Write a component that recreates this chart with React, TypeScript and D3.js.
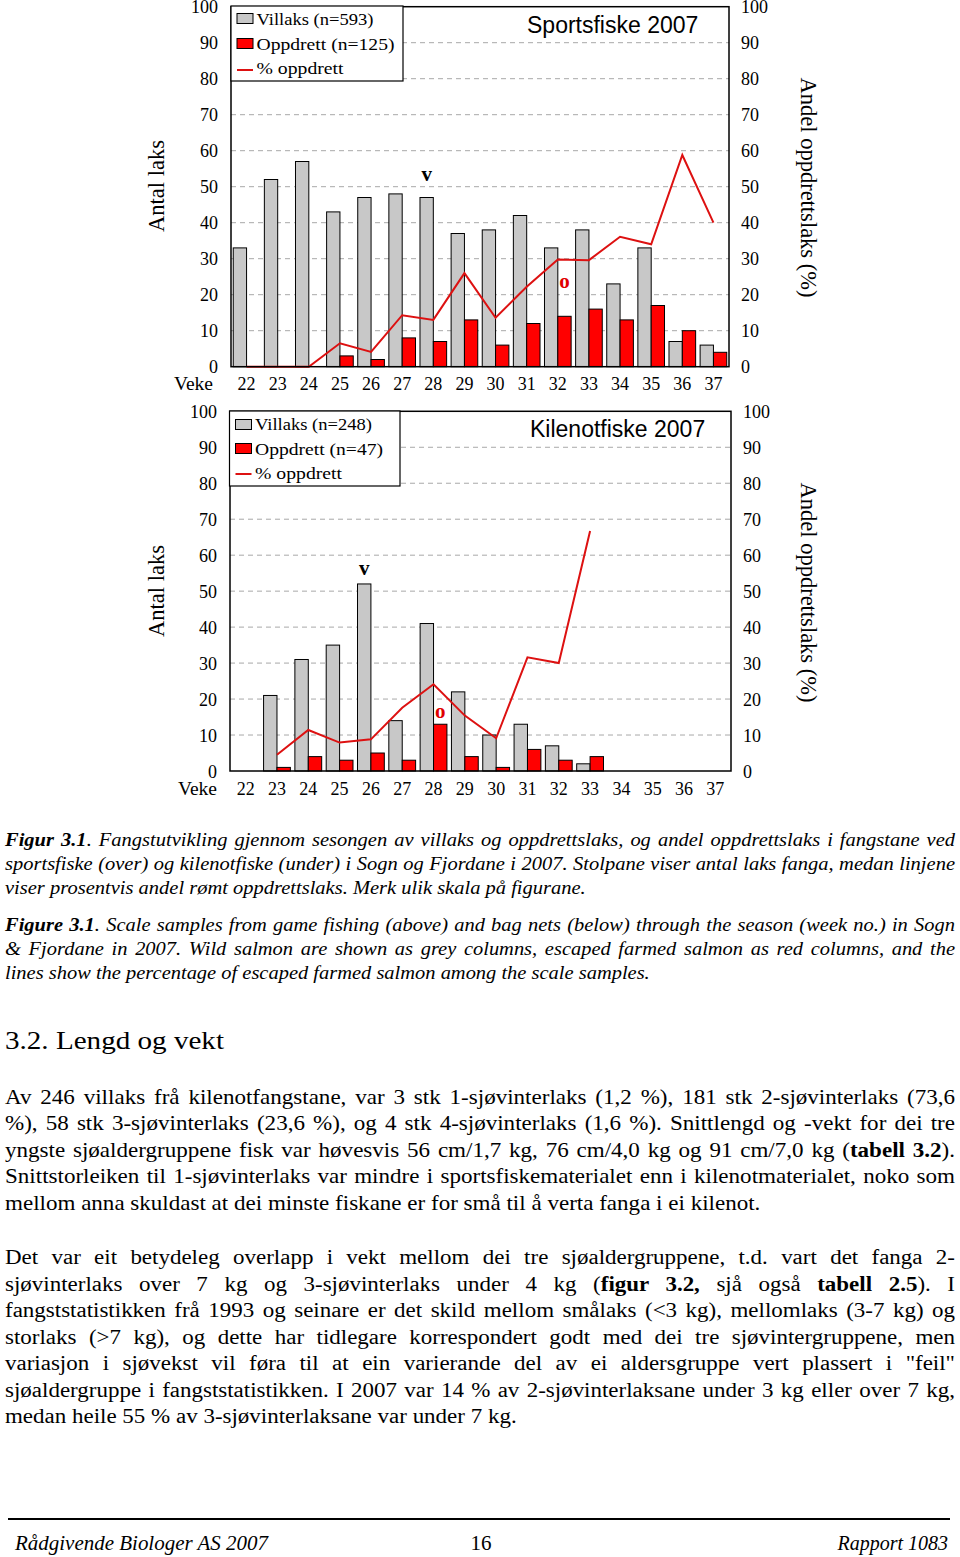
import React, { useEffect, useRef } from "react";
import * as d3 from "d3";

// ---------- data ----------
const weeks = ["22", "23", "24", "25", "26", "27", "28", "29", "30", "31", "32", "33", "34", "35", "36", "37"];
const yTicks = [0, 10, 20, 30, 40, 50, 60, 70, 80, 90, 100];

const sportVillaks = [33, 52, 57, 43, 47, 48, 47, 37, 38, 42, 33, 38, 23, 33, 7, 6];
const sportOppdrett = [0, 0, 0, 3, 2, 8, 7, 13, 6, 12, 14, 16, 13, 17, 10, 4];
const sportPct = [0, 0, 0, 6.5, 4.1, 14.3, 13, 26, 13.6, 22.2, 29.8, 29.6, 36.1, 34, 58.8, 40];

const kileVillaks = [null, 21, 31, 35, 52, 14, 41, 22, 10, 13, 7, 2, null, null, null, null];
const kileOppdrett = [null, 1, 4, 3, 5, 3, 13, 4, 1, 6, 3, 4, null, null, null, null];
const kilePct = [null, 4.5, 11.4, 7.9, 8.8, 17.6, 24.1, 15.4, 9.1, 31.6, 30, 66.7, null, null, null, null];

const sportLegend = ["Villaks (n=593)", "Oppdrett (n=125)", "% oppdrett"];
const kileLegend = ["Villaks (n=248)", "Oppdrett (n=47)", "% oppdrett"];
const sportTitle = "Sportsfiske 2007";
const kileTitle = "Kilenotfiske 2007";
const sportMarks = [{ week: "28", series: "v", value: 51.5, text: "v" }, { week: "32", series: "o", value: 21.8, text: "o" }];
const kileMarks = [{ week: "26", series: "v", value: 54.4, text: "v" }, { week: "28", series: "o", value: 14.7, text: "o" }];

type Seg = string | { b: string };
const captionNo: Seg[][] = [
  [{ b: "Figur 3.1" }, ". Fangstutvikling gjennom sesongen av villaks og oppdrettslaks, og andel oppdrettslaks i fangstane ved"],
  ["sportsfiske (over) og kilenotfiske (under) i Sogn og Fjordane i 2007. Stolpane viser antal laks fanga, medan linjene"],
  ["viser prosentvis andel rømt oppdrettslaks. Merk ulik skala på figurane."],
];
const captionEn: Seg[][] = [
  [{ b: "Figure 3.1" }, ". Scale samples from game fishing (above) and bag nets (below) through the season (week no.) in Sogn"],
  ["& Fjordane in 2007.  Wild salmon are shown as grey columns, escaped farmed salmon as red columns, and the"],
  ["lines show the percentage of escaped farmed salmon among the scale samples."],
];
const heading = "3.2. Lengd og vekt";
const para1: Seg[][] = [
  ["Av 246 villaks frå kilenotfangstane, var 3 stk 1-sjøvinterlaks  (1,2 %), 181 stk 2-sjøvinterlaks (73,6"],
  ["%), 58 stk 3-sjøvinterlaks (23,6 %), og 4 stk 4-sjøvinterlaks (1,6 %). Snittlengd og -vekt for dei tre"],
  ["yngste sjøaldergruppene fisk var høvesvis 56 cm/1,7 kg, 76 cm/4,0 kg og 91 cm/7,0 kg (", { b: "tabell 3.2" }, ")."],
  ["Snittstorleiken til 1-sjøvinterlaks var mindre i sportsfiskematerialet enn i kilenotmaterialet, noko som"],
  ["mellom anna skuldast at dei minste fiskane er for små til å verta fanga i ei kilenot."],
];
const para2: Seg[][] = [
  ["Det var eit betydeleg overlapp i vekt mellom dei tre sjøaldergruppene, t.d. vart det fanga 2-"],
  ["sjøvinterlaks over 7 kg og 3-sjøvinterlaks under 4 kg (", { b: "figur 3.2," }, " sjå også ", { b: "tabell 2.5" }, "). I"],
  ["fangststatistikken frå 1993 og seinare er det skild mellom smålaks (<3 kg), mellomlaks (3-7 kg) og"],
  ["storlaks (>7 kg), og dette har tidlegare korrespondert godt med dei tre sjøvintergruppene, men"],
  ["variasjon i sjøvekst vil føra til at ein varierande del av ei aldersgruppe vert plassert i \"feil\""],
  ["sjøaldergruppe i fangststatistikken. I 2007 var 14 % av 2-sjøvinterlaksane under 3 kg eller over 7 kg,"],
  ["medan heile 55 % av 3-sjøvinterlaksane var under 7 kg."],
];
const footerLeft = "Rådgivende Biologer AS 2007";
const footerMid = "16";
const footerRight = "Rapport 1083";

// ---------- layout ----------
const SERIF = "'Liberation Serif', 'Times New Roman', serif";
const SANS = "'Liberation Sans', Arial, sans-serif";
const GREY = "#c8c8c8";
const RED = "#ff0000";
const LINE_RED = "#dd1111";

const chartTop = { left: 231, right: 729, top: 6.7, bottom: 366.7, vekeX: 213, titleX: 527, titleY: 33,
  legend: { x: 231, y: 6, w: 172, h: 75, rows: [25, 49.5, 73.5], swY: [13.5, 38.5, 70], fits: [117, 138, 87] }, antalY: 186, andelY: 187.5 };
const chartBot = { left: 230, right: 731, top: 411.3, bottom: 771, vekeX: 217, titleX: 530, titleY: 437,
  legend: { x: 229.5, y: 411, w: 170.5, h: 75, rows: [430, 455, 479], swY: [419.5, 443.5, 474], fits: [117, 128, 87] }, antalY: 591, andelY: 592.5 };

function Chart({ cfg, villaks, oppdrett, pct, legend, title, marks }: any) {
  const x = d3.scaleBand<string>().domain(weeks).range([cfg.left, cfg.right]).paddingInner(0).paddingOuter(0);
  const y = d3.scaleLinear().domain([0, 100]).range([cfg.bottom, cfg.top]);
  const bw = x.bandwidth();
  const w = bw * 0.428;
  const pts = weeks.map((wk, i) => ({ w: wk, v: pct[i] }));
  const line = d3.line<any>().defined((d) => d.v != null).x((d) => (x(d.w) as number) + bw / 2).y((d) => y(d.v));
  const L = cfg.legend;
  return (
    <g>
      {yTicks.filter((t) => t > 0 && t < 100).map((t) => (
        <line key={t} x1={cfg.left} x2={cfg.right} y1={y(t)} y2={y(t)} stroke="#a8a8a8" strokeWidth={1} strokeDasharray="5 4" />
      ))}
      {weeks.map((wk, i) => (
        <g key={wk}>
          {villaks[i] != null && villaks[i] > 0 && (
            <rect x={(x(wk) as number) + bw / 2 - w} y={y(villaks[i])} width={w} height={y(0) - y(villaks[i])} fill={GREY} stroke="#000" strokeWidth={1} />
          )}
          {oppdrett[i] != null && oppdrett[i] > 0 && (
            <rect x={(x(wk) as number) + bw / 2} y={y(oppdrett[i])} width={w} height={y(0) - y(oppdrett[i])} fill={RED} stroke="#000" strokeWidth={1} />
          )}
        </g>
      ))}
      <path d={line(pts) || ""} fill="none" stroke={LINE_RED} strokeWidth={2} />
      <rect x={cfg.left} y={cfg.top} width={cfg.right - cfg.left} height={cfg.bottom - cfg.top} fill="none" stroke="#000" strokeWidth={1.5} />
      {marks.map((m: any) => (
        <text key={m.text} x={(x(m.week) as number) + bw / 2 + (m.series === "v" ? -w / 2 : w / 2)} y={y(m.value)}
          textAnchor="middle" fontFamily={SERIF} fontWeight="bold" fontSize={21} fill={m.series === "v" ? "#000" : "#e00000"}>{m.text}</text>
      ))}
      {/* legend */}
      <rect x={L.x} y={L.y} width={L.w} height={L.h} fill="#fff" stroke="#000" strokeWidth={1.2} />
      <rect x={L.x + 6} y={L.swY[0]} width={16} height={10} fill={GREY} stroke="#000" strokeWidth={1} />
      <rect x={L.x + 6} y={L.swY[1]} width={16} height={10} fill={RED} stroke="#000" strokeWidth={1} />
      <line x1={L.x + 6} x2={L.x + 22} y1={L.swY[2]} y2={L.swY[2]} stroke={LINE_RED} strokeWidth={2} />
      {legend.map((s: string, i: number) => (
        <text key={s} x={L.x + 25.5} y={L.rows[i]} fontFamily={SERIF} fontSize={16.5} data-fit={L.fits[i]} fill="#000">{s}</text>
      ))}
      <text x={cfg.titleX} y={cfg.titleY} fontFamily={SANS} fontSize={23} fill="#000">{title}</text>
      {/* axes labels */}
      {yTicks.map((t) => (
        <g key={t}>
          <text x={cfg.left - 13} y={y(t)} dy="0.37em" textAnchor="end" fontFamily={SERIF} fontSize={18}>{t}</text>
          <text x={cfg.right + 12} y={y(t)} dy="0.37em" textAnchor="start" fontFamily={SERIF} fontSize={18}>{t}</text>
        </g>
      ))}
      {weeks.map((wk) => (
        <text key={wk} x={(x(wk) as number) + bw / 2} y={cfg.bottom + 23.5} textAnchor="middle" fontFamily={SERIF} fontSize={18}>{wk}</text>
      ))}
      <text x={cfg.vekeX} y={cfg.bottom + 23.5} textAnchor="end" fontFamily={SERIF} fontSize={18} data-fit="39">Veke</text>
      <text transform={`translate(164,${cfg.antalY}) rotate(-90)`} textAnchor="middle" fontFamily={SERIF} fontSize={22.5}>Antal laks</text>
      <text transform={`translate(801,${cfg.andelY}) rotate(90)`} textAnchor="middle" fontFamily={SERIF} fontSize={22.5}>Andel oppdrettslaks (%)</text>
    </g>
  );
}

function Seg({ s }: { s: Seg }) {
  if (typeof s === "string") return <tspan>{s}</tspan>;
  return <tspan fontWeight="bold">{s.b}</tspan>;
}

function Block({ lines, y0, dy, fontSize, italic, width, lastWidth, id }: any) {
  return (
    <g data-block={id} data-width={width} data-last={lastWidth} transform="translate(5,0)">
      {lines.map((ln: Seg[], i: number) => (
        <text key={i} x={0} y={y0 + i * dy} fontFamily={SERIF} fontSize={fontSize} fontStyle={italic ? "italic" : "normal"} fill="#000">
          {ln.map((s, j) => <Seg key={j} s={s} />)}
        </text>
      ))}
    </g>
  );
}

export default function App() {
  const ref = useRef<SVGSVGElement>(null);
  useEffect(() => {
    const svg = ref.current;
    if (!svg) return;
    svg.querySelectorAll("g[data-block]").forEach((g: any) => {
      const width = +g.getAttribute("data-width");
      const lastW = +g.getAttribute("data-last");
      const texts = Array.from(g.querySelectorAll("text")) as any[];
      const last = texts[texts.length - 1];
      const natLast = last.getComputedTextLength();
      const k = natLast > 0 ? lastW / natLast : 1;
      g.setAttribute("transform", `translate(5,0) scale(${k},1)`);
      const need = width / k;
      texts.slice(0, -1).forEach((t) => {
        const nat = t.getComputedTextLength();
        const txt = (t.textContent || "").replace(/\s+/g, " ").trim();
        const spaces = (txt.match(/ /g) || []).length;
        const ws = spaces > 0 ? (need - nat) / spaces : 0;
        if (ws >= 0) t.style.wordSpacing = ws + "px";
        else {
          t.setAttribute("textLength", String(need));
          t.setAttribute("lengthAdjust", "spacingAndGlyphs");
        }
      });
    });
    svg.querySelectorAll("text[data-fit]").forEach((t: any) => {
      t.setAttribute("textLength", t.getAttribute("data-fit"));
      t.setAttribute("lengthAdjust", "spacingAndGlyphs");
    });
  }, []);

  return (
    <svg ref={ref} width={960} height={1557} viewBox="0 0 960 1557"
      style={{ position: "absolute", left: 0, top: 0, background: "#fff" }}>
      <rect x={0} y={0} width={960} height={1557} fill="#fff" />
      <Chart cfg={chartTop} villaks={sportVillaks} oppdrett={sportOppdrett} pct={sportPct} legend={sportLegend} title={sportTitle} marks={sportMarks} />
      <Chart cfg={chartBot} villaks={kileVillaks} oppdrett={kileOppdrett} pct={kilePct} legend={kileLegend} title={kileTitle} marks={kileMarks} />
      <Block id="capNo" lines={captionNo} y0={846} dy={24.2} fontSize={18} italic width={950} lastWidth={581} />
      <Block id="capEn" lines={captionEn} y0={931} dy={24.2} fontSize={18} italic width={950} lastWidth={645} />
      <text x={5} y={1049} fontFamily={SERIF} fontSize={25} data-fit="219">{heading}</text>
      <Block id="p1" lines={para1} y0={1104} dy={26.5} fontSize={20} width={950} lastWidth={756} />
      <Block id="p2" lines={para2} y0={1264.5} dy={26.5} fontSize={20} width={950} lastWidth={512} />
      <line x1={8} x2={950} y1={1519} y2={1519} stroke="#000" strokeWidth={2} />
      <text x={15} y={1550} fontFamily={SERIF} fontStyle="italic" fontSize={20} data-fit="253">{footerLeft}</text>
      <text x={481} y={1550} textAnchor="middle" fontFamily={SERIF} fontSize={21}>{footerMid}</text>
      <text x={948} y={1550} textAnchor="end" fontFamily={SERIF} fontStyle="italic" fontSize={20}>{footerRight}</text>
    </svg>
  );
}
